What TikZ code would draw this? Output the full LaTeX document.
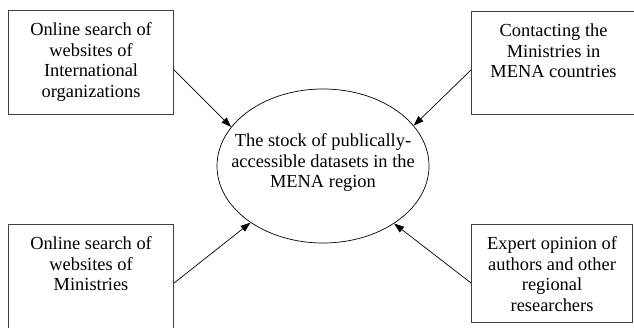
\documentclass[tikz,border=0pt]{standalone}
\usepackage{fontspec}
\setmainfont{Liberation Serif}
\usetikzlibrary{positioning, arrows.meta, shapes.geometric}
\newcommand{\boxlines}[3]{\parbox[t][#2][t]{#1}{\centering\rule{0pt}{25pt}#3}}

\begin{document}
\begin{tikzpicture}[x=1pt, y=-1pt,
    font=\fontsize{18.4}{20.5}\selectfont,
    srcbox/.style={draw=black!75, line width=1.1pt, inner sep=0pt},
    feed/.style={-{Triangle[length=10pt, width=7pt]}, line width=0.7pt}]
    \useasboundingbox (0,0) rectangle (634,328);
    \clip (0,0) rectangle (634,328);
    % sources
    \node[srcbox, anchor=north west] (intl) at (8,10)
      {\boxlines{165pt}{104pt}{Online search of\\websites of\\International\\organizations}};
    \node[srcbox, anchor=north west] (contact) at (471,11)
      {\boxlines{164pt}{103pt}{Contacting the\\Ministries in\\MENA countries}};
    \node[srcbox, anchor=north west] (minis) at (8,224)
      {\boxlines{165pt}{110pt}{Online search of\\websites of\\Ministries}};
    \node[srcbox, anchor=north west] (expert) at (471,224)
      {\boxlines{161pt}{98pt}{Expert opinion of\\authors and other\\regional\\researchers}};
    % stock
    \node[ellipse, draw, line width=0.7pt, minimum width=212pt, minimum height=154pt,
      label={[align=center, yshift=3pt]center:The stock of publically-\\accessible datasets in the\\MENA region}]
      (stock) at (323,166) {};
    % arrows
    \draw[feed] ([yshift=-60pt]intl.north east) -- (stock.157);
    \draw[feed] ([yshift=-59pt]contact.north west) -- (stock.24);
    \draw[feed] ([yshift=-59pt]minis.north east) -- (stock.218);
    \draw[feed] ([yshift=-59pt]expert.north west) -- (stock.321);
\end{tikzpicture}
\end{document}
